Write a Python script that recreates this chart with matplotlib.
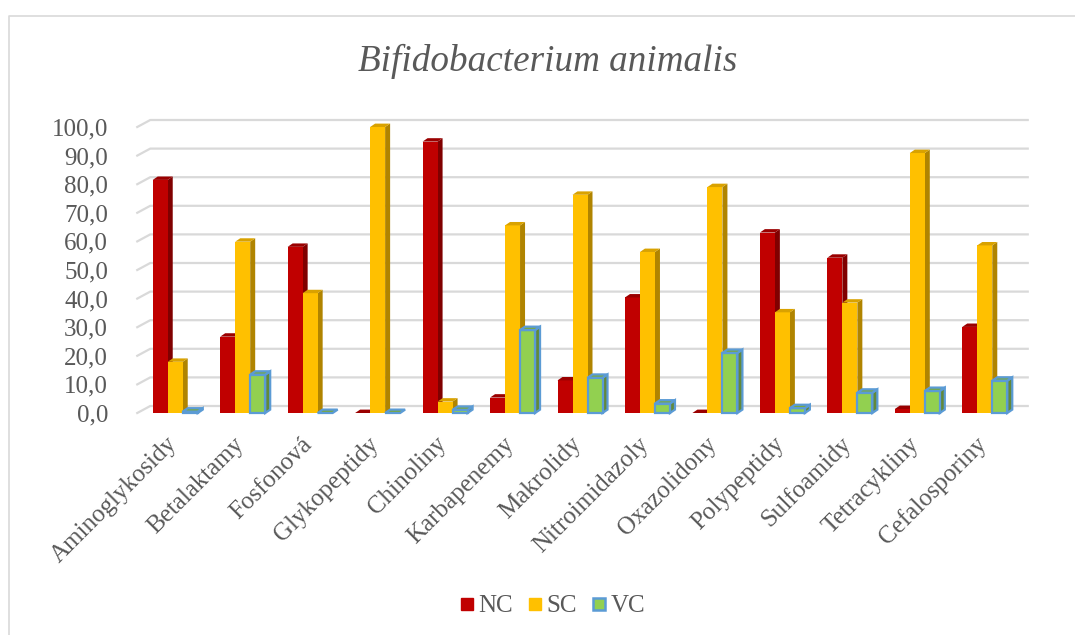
import numpy as np
import matplotlib
matplotlib.use("Agg")
import matplotlib.pyplot as plt
from matplotlib.patches import Polygon, Rectangle
from matplotlib.lines import Line2D
from matplotlib.transforms import ScaledTranslation

# antibiotic groups and share of strains (%) per class
categories = ['Aminoglykosidy', 'Betalaktamy', 'Fosfonová', 'Glykopeptidy',
              'Chinoliny', 'Karbapenemy', 'Makrolidy', 'Nitroimidazoly',
              'Oxazolidony', 'Polypeptidy', 'Sulfoamidy', 'Tetracykliny',
              'Cefalosporiny']
NC = [81.5, 26.7, 58.1, 0.0, 94.9, 5.4, 11.4, 40.4, 0.0, 63.1, 54.3, 1.4, 30.1]
SC = [17.9, 59.9, 41.9, 100.0, 4.0, 65.6, 76.3, 56.3, 79.0, 35.2, 38.6, 90.9, 58.6]
VC = [0.5, 13.4, 0.0, 0.0, 1.1, 29.0, 12.3, 3.3, 21.0, 1.7, 7.1, 7.7, 11.3]
yticks = np.arange(0, 101, 10)
ylabels = ['%.1f' % v for v in yticks]
ylabels = [s.replace('.', ',') for s in ylabels]

serif = ['Liberation Serif', 'DejaVu Serif']
txt = '#595959'

W, H = 1075, 635
fig = plt.figure(figsize=(W / 100, H / 100), dpi=100)

# pixel geometry of the front plane
x0, x1 = 144, 1021
y0, y1 = 413, 127
ax = fig.add_axes([x0 / W, 1 - y0 / H, (x1 - x0) / W, (y0 - y1) / H])
ax.set_xlim(-0.5, 12.5)
ax.set_ylim(0, 100)
for s in ax.spines.values():
    s.set_visible(False)

pxx = (x1 - x0) / 13.0      # pixels per category
pxy = (y0 - y1) / 100.0     # pixels per unit
dx = 5 / pxx                # bar depth
dy = 3.4 / pxy
bx = 13 / pxx               # back wall offset
by = 7 / pxy
w = 15 / pxx

# gridlines on the back wall with the short diagonal on the side wall
for v in yticks:
    ax.add_line(Line2D([-0.6, -0.6 + bx, 12.6], [v, v + by, v + by],
                       color='#d9d9d9', lw=1.6, zorder=1, clip_on=False))

series = [
    (NC, '#c00000', '#800000', '#9a0000', None),
    (SC, '#ffc000', '#b08400', '#d9a200', None),
    (VC, '#92d050', '#62893a', '#77a842', '#5b9bd5'),
]

x = np.arange(len(categories))
for j, (vals, front, side, top, edge) in enumerate(series):
    for i, v in enumerate(vals):
        left = x[i] - 1.5 * w - dx / 2 + j * w
        ec = edge if edge else 'none'
        lw = 1.6 if edge else 0
        z = 3 + j
        if v > 0:
            ax.add_patch(Polygon([(left + w, 0), (left + w + dx, dy),
                                  (left + w + dx, v + dy), (left + w, v)],
                                 closed=True, fc=side, ec=ec, lw=lw,
                                 zorder=z, clip_on=False))
            ax.add_patch(Rectangle((left, 0), w, v, fc=front, ec=ec, lw=lw,
                                   zorder=z, clip_on=False))
        ax.add_patch(Polygon([(left, v), (left + dx, v + dy),
                              (left + w + dx, v + dy), (left + w, v)],
                             closed=True, fc=top, ec=ec, lw=lw,
                             zorder=z, clip_on=False))

ax.set_yticks(yticks)
ax.set_yticklabels(ylabels, fontfamily=serif, fontsize=18, color=txt)
ax.tick_params(axis='y', length=0, pad=26)
ax.set_xticks(x)
ax.set_xticklabels(categories, fontfamily=serif, fontsize=18, color=txt,
                   rotation=45, ha='right', va='center', rotation_mode='anchor')
ax.tick_params(axis='x', length=0, pad=20)
shift = ScaledTranslation(-3 / 72, 0, fig.dpi_scale_trans)
for lab in ax.get_xticklabels():
    lab.set_transform(lab.get_transform() + shift)

fig.text(548 / W, 1 - 61 / H, 'Bifidobacterium animalis', ha='center',
         va='center', fontfamily=serif, fontstyle='italic', fontsize=26.7,
         color=txt)

handles = [
    Line2D([], [], ls='none', marker='s', ms=9, mfc='#c00000', mec='#c00000'),
    Line2D([], [], ls='none', marker='s', ms=9, mfc='#ffc000', mec='#ffc000'),
    Line2D([], [], ls='none', marker='s', ms=9, mfc='#92d050', mec='#5b9bd5',
           mew=1.8),
]
leg = fig.legend(handles, ['NC', 'SC', 'VC'], loc='center', ncol=3,
                 bbox_to_anchor=(552 / W, 1 - 606 / H), frameon=False,
                 prop={'family': serif, 'size': 18}, handletextpad=0.15,
                 columnspacing=0.6, handlelength=0.6)
for t in leg.get_texts():
    t.set_color(txt)

# chart area border
fig.add_artist(Line2D([8.5 / W, 8.5 / W, 1.0], [0.0, 1 - 16 / H, 1 - 16 / H],
                      transform=fig.transFigure, color='#d9d9d9', lw=1.2))

fig.savefig('out.png', dpi=100)
